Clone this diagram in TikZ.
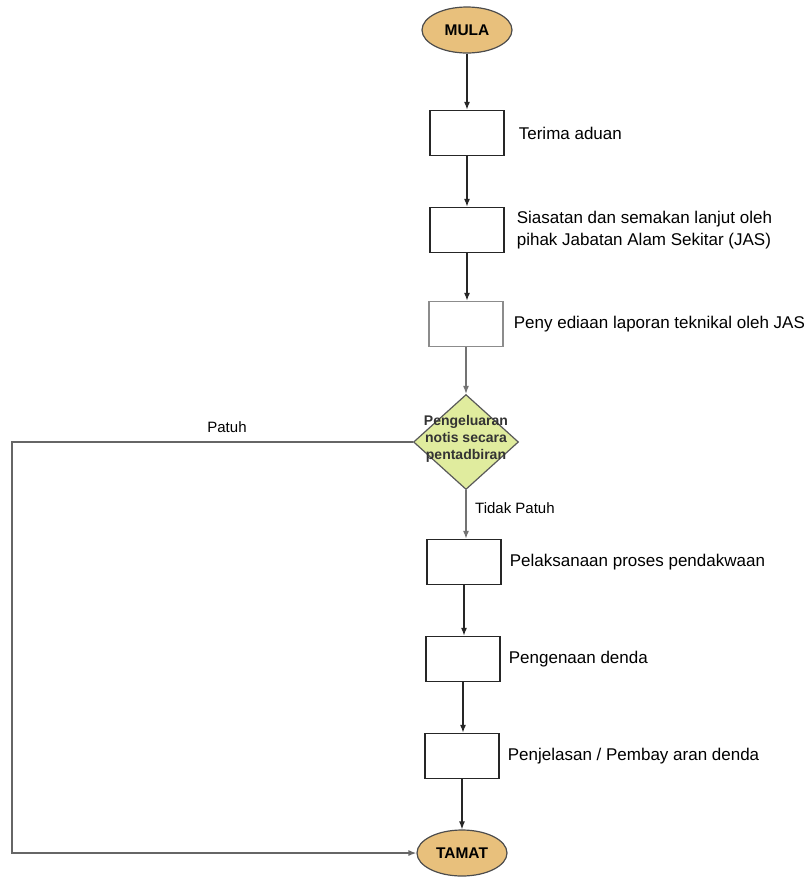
\documentclass[tikz,border=0pt]{standalone}
\usepackage{fontspec}
\setmainfont{Liberation Sans}
\usetikzlibrary{arrows.meta,positioning,shapes.geometric}
\definecolor{termfill}{RGB}{232,192,124}
\definecolor{decfill}{RGB}{224,236,158}
\tikzset{terminal/.style={
    ellipse,minimum width=90pt,minimum height=46pt,inner sep=0pt,
    line width=1.2pt,draw=black!70,fill=termfill,
    font=\fontsize{15.5}{18}\selectfont\bfseries}}
\tikzset{process/.style={
    rectangle,minimum width=74pt,minimum height=45pt,inner sep=0pt,
    line width=1.3pt,draw=black!85}}
\tikzset{decision/.style={
    diamond,minimum width=105pt,minimum height=95pt,inner sep=0pt,
    line width=1.2pt,draw=black!65,fill=decfill}}
\tikzset{desc/.style={inner sep=0pt,align=left,font=\fontsize{17}{22}\selectfont}}
\tikzset{branch/.style={inner sep=0pt,font=\fontsize{15}{18}\selectfont}}
\tikzset{flow/.style={-{Latex[length=8pt,width=6pt]},line width=1.3pt,draw=black!85}}

\begin{document}
\begin{tikzpicture}[x=1pt,y=-1pt]
  \useasboundingbox (0,0) rectangle (810,879);

  \node (mula)    [terminal] at (467,30)  {MULA};
  \node (terima)  [process]  at (467,133) {};
  \node (siasat)  [process]  at (467,230) {};
  \node (laporan) [process,draw=black!45] at (466,324) {};
  \node (notis)   [decision] at (466,442) {};
  \node (notistext) [align=center,inner sep=0pt,font=\fontsize{14}{17}\selectfont\bfseries,text=black!80] at (466,439) {Pengeluaran\\notis secara\\pentadbiran};
  \node (dakwa)   [process]  at (464,562) {};
  \node (denda)   [process]  at (463,659) {};
  \node (bayar)   [process]  at (462,756) {};
  \node (tamat)   [terminal] at (462,853) {TAMAT};

  \node (terimadesc)  [desc,right=14pt of terima]  {Terima aduan};
  \node (siasatdesc)  [desc,right=12pt of siasat]  {Siasatan dan semakan lanjut oleh\\pihak Jabatan Alam Sekitar (JAS)};
  \node (laporandesc) [desc,right=10pt of laporan] {Peny ediaan laporan teknikal oleh JAS};
  \node (dakwadesc)   [desc,right=8pt of dakwa]    {Pelaksanaan proses pendakwaan};
  \node (dendadesc)   [desc,right=8pt of denda]    {Pengenaan denda};
  \node (bayardesc)   [desc,right=8pt of bayar]    {Penjelasan / Pembay aran denda};

  \node (patuh)      [branch] at (227,427) {Patuh};
  \node (tidakpatuh) [branch,anchor=west] at (475,508) {Tidak Patuh};

  \coordinate (kiri) at (12,853);

  \draw [flow] (mula) -- (terima);
  \draw [flow] (terima) -- (siasat);
  \draw [flow] (siasat.south) -- (siasat.south |- laporan.north);
  \draw [flow,draw=black!55] (laporan) -- (notis);
  \draw [flow,draw=black!55] (notis.south) -- (notis.south |- dakwa.north);
  \draw [flow] (dakwa.south) -- (dakwa.south |- denda.north);
  \draw [flow] (denda.south) -- (denda.south |- bayar.north);
  \draw [flow] (bayar) -- (tamat);
  \draw [flow,draw=black!60] (notis.west) -| (kiri) -- (tamat.west);

\end{tikzpicture}
\end{document}
